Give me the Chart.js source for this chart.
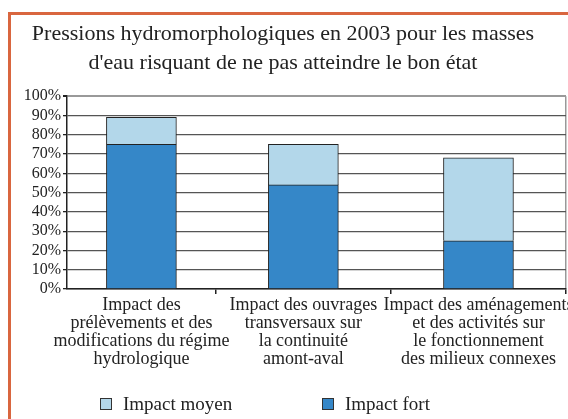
<!DOCTYPE html>
<html>
<head>
<meta charset="utf-8">
<script src="https://cdn.jsdelivr.net/npm/chart.js@4.4.1/dist/chart.umd.min.js"></script>
<style>
  html, body { margin: 0; padding: 0; background: #fff; overflow: hidden; }
  #wrap { position: relative; width: 568px; height: 419px; overflow: hidden; }
  #frame { position: absolute; left: 8px; top: 12px; width: 620px; height: 500px; border: 3px solid #d9663f; box-sizing: border-box; }
  canvas { position: absolute; left: 0; top: 0; }
  #legend { position: absolute; left: 0; top: 393px; width: 568px; font-family: 'Liberation Serif', serif; font-size: 19px; line-height: 22px; color: #222; }
  .item { position: absolute; display: flex; align-items: center; white-space: nowrap; }
  .box { width: 10px; height: 10px; border: 1px solid #333; margin-right: 11px; }
</style>
</head>
<body>
<div id="wrap">
  <div id="frame"></div>
  <canvas id="chart" width="568" height="419"></canvas>
  <div id="legend"></div>
</div>
<script>
const categories = [
  ['Impact des', 'prélèvements et des', 'modifications du régime', 'hydrologique'],
  ['Impact des ouvrages', 'transversaux sur', 'la continuité', 'amont-aval'],
  ['Impact des aménagements', 'et des activités sur', 'le fonctionnement', 'des milieux connexes']
];
const impactFort = [75, 54, 25];
const impactMoyen = [14, 21, 43];
const yTicks = [0, 10, 20, 30, 40, 50, 60, 70, 80, 90, 100];

const serif = 'Liberation Serif';
const darkBlue = '#3587c8';
const lightBlue = '#b3d7ea';

// the first category slot is cut short on the left in the original
const xMin = 0.15;
const xMax = categories.length;
// each bar sits in the middle of the visible part of its slot
const slots = categories.map((c, i) => (Math.max(i, xMin) + i + 1) / 2);
const toPoints = arr => arr.map((v, i) => ({ x: slots[i], y: v }));

const datasets = [
  { label: 'Impact fort', data: toPoints(impactFort), backgroundColor: darkBlue },
  { label: 'Impact moyen', data: toPoints(impactMoyen), backgroundColor: lightBlue }
];

const isSlotEdge = v => Number.isInteger(v);

const chart = new Chart(document.getElementById('chart'), {
  type: 'bar',
  data: { datasets: datasets },
  options: {
    responsive: false,
    animation: false,
    layout: { padding: { left: 0, right: 2, bottom: 49 } },
    datasets: {
      bar: { borderColor: '#222', borderWidth: 1, barThickness: 70 }
    },
    plugins: {
      legend: { display: false },
      tooltip: { enabled: false },
      title: {
        display: true,
        text: ['Pressions hydromorphologiques en 2003 pour les masses', "d'eau risquant de ne pas atteindre le bon état"],
        font: { family: serif, size: 22, weight: 'normal', lineHeight: 1.3 },
        color: '#222',
        padding: { top: 20, bottom: 19 }
      }
    },
    scales: {
      x: {
        type: 'linear',
        bounds: 'data',
        offset: false,
        min: xMin,
        max: xMax,
        stacked: true,
        afterBuildTicks: s => {
          const vals = [];
          slots.forEach((p, i) => { vals.push(p, i + 1); });
          s.ticks = vals.map(v => ({ value: v }));
        },
        ticks: {
          autoSkip: false,
          maxRotation: 0,
          padding: 2,
          color: '#222',
          font: { family: serif, size: 18, lineHeight: 1.0 },
          callback: (v, i) => (isSlotEdge(v) ? '' : categories[slots.indexOf(v)])
        },
        grid: {
          offset: false,
          drawOnChartArea: true,
          color: c => (c.tick && c.tick.value === xMax ? '#999' : 'rgba(0,0,0,0)'),
          tickColor: c => (c.tick && isSlotEdge(c.tick.value) ? '#222' : 'rgba(0,0,0,0)'),
          tickLength: 5,
          lineWidth: 1.5
        },
        border: { color: '#222', width: 1.5 }
      },
      y: {
        stacked: true,
        min: 0,
        max: 100,
        afterBuildTicks: s => { s.ticks = yTicks.map(v => ({ value: v })); },
        afterFit: s => { s.width = 67; },
        ticks: {
          autoSkip: false,
          padding: 2,
          color: '#222',
          font: { family: serif, size: 16 },
          callback: v => v + '%'
        },
        grid: {
          color: c => (c.tick && c.tick.value === 100 ? '#999' : '#555'),
          lineWidth: c => (c.tick && c.tick.value === 100 ? 2 : 1.3),
          tickColor: '#222',
          tickLength: 4
        },
        border: { color: '#222', width: 1.5 }
      }
    }
  }
});

// legend: light series first, as in the original
const legendPos = [100, 322];
const legendEl = document.getElementById('legend');
[datasets[1], datasets[0]].forEach((ds, i) => {
  const item = document.createElement('div');
  item.className = 'item';
  item.style.left = legendPos[i] + 'px';
  const box = document.createElement('span');
  box.className = 'box';
  box.style.background = ds.backgroundColor;
  const txt = document.createElement('span');
  txt.textContent = ds.label;
  item.appendChild(box);
  item.appendChild(txt);
  legendEl.appendChild(item);
});
</script>
</body>
</html>
